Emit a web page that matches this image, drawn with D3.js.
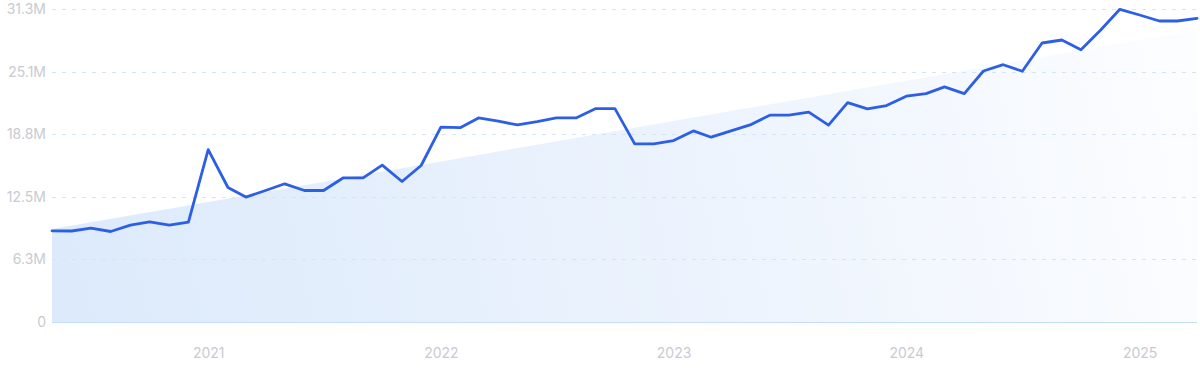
<!DOCTYPE html>
<html>
<head>
<meta charset="utf-8">
<script src="https://cdn.jsdelivr.net/npm/d3@7"></script>
<style>
html,body{margin:0;padding:0;background:#fff;}
svg{display:block;}
text{font-family:Inter,"Noto Sans",sans-serif;}
</style>
</head>
<body>
<svg id="chart" width="1200" height="371"></svg>
<script>
// Monthly data, May 2020 – Apr 2025 (values in millions)
const startMonth = "2020-05";
const values = [
  9.12, 9.10, 9.39, 9.05, 9.69, 10.02, 9.69, 9.99, 17.24, 13.45,
  12.49, 13.15, 13.82, 13.15, 13.15, 14.42, 14.42, 15.69, 14.05, 15.65,
  19.48, 19.44, 20.41, 20.08, 19.71, 20.04, 20.41, 20.41, 21.34, 21.34,
  17.81, 17.81, 18.14, 19.11, 18.48, 19.11, 19.71, 20.68, 20.68, 20.98,
  19.68, 21.94, 21.31, 21.64, 22.58, 22.84, 23.51, 22.84, 25.10, 25.73,
  25.07, 27.90, 28.20, 27.23, 29.20, 31.27, 30.70, 30.10, 30.10, 30.37
];
const trendValues = [9.29, 29.2];
const yTicks = [0, 6.26, 12.52, 18.78, 25.04, 31.3];
const yTickLabels = ["0", "6.3M", "12.5M", "18.8M", "25.1M", "31.3M"];
const xTickYears = [2021, 2022, 2023, 2024, 2025];

const parse = d3.timeParse("%Y-%m");
const start = parse(startMonth);
const data = values.map((v, i) => ({date: d3.timeMonth.offset(start, i), value: v}));

const svg = d3.select("#chart");
const mLeft = 52, mRight = 1197, mTop = 9, mBottom = 322;

const x = d3.scaleTime()
  .domain([data[0].date, data[data.length - 1].date])
  .range([mLeft, mRight]);
const y = d3.scaleLinear().domain([0, 31.3]).range([mBottom, mTop]);

// gradient for trend area
const defs = svg.append("defs");
const grad = defs.append("linearGradient")
  .attr("id", "areaGrad")
  .attr("gradientUnits", "userSpaceOnUse")
  .attr("x1", mLeft).attr("y1", mBottom)
  .attr("x2", mRight).attr("y2", mTop + 60);
grad.append("stop").attr("offset", "0%").attr("stop-color", "#dceafb");
grad.append("stop").attr("offset", "55%").attr("stop-color", "#ecf3fd");
grad.append("stop").attr("offset", "100%").attr("stop-color", "#fcfdff");

// trend area
const trend = [
  {date: data[0].date, value: trendValues[0]},
  {date: data[data.length - 1].date, value: trendValues[1]}
];
svg.append("path")
  .datum(trend)
  .attr("fill", "url(#areaGrad)")
  .attr("d", d3.area().x(d => x(d.date)).y0(y(0)).y1(d => y(d.value)));

// gridlines
svg.append("g")
  .selectAll("line")
  .data(yTicks.slice(1))
  .join("line")
  .attr("x1", mLeft).attr("x2", mRight)
  .attr("y1", d => Math.round(y(d)) + 0.5).attr("y2", d => Math.round(y(d)) + 0.5)
  .attr("stroke", "#d3e3f8")
  .attr("stroke-width", 1)
  .attr("stroke-dasharray", "4,6");

// baseline
svg.append("line")
  .attr("x1", mLeft).attr("x2", mRight)
  .attr("y1", Math.round(y(0)) + 0.5).attr("y2", Math.round(y(0)) + 0.5)
  .attr("stroke", "#c4defa").attr("stroke-width", 1);

// y axis labels
const yAxis = d3.axisLeft(y)
  .tickValues(yTicks)
  .tickFormat((d, i) => yTickLabels[i])
  .tickSize(0)
  .tickPadding(6);
const gy = svg.append("g").attr("transform", `translate(${mLeft},0)`).call(yAxis);
gy.select(".domain").remove();
gy.selectAll("text")
  .attr("fill", "#c9cad3")
  .attr("font-size", 14)
  .style("font-family", "Inter, 'Noto Sans', sans-serif");

// x axis labels
const xAxis = d3.axisBottom(x)
  .tickValues(xTickYears.map(yr => new Date(yr, 0, 1)))
  .tickFormat(d3.timeFormat("%Y"))
  .tickSize(0)
  .tickPadding(26);
const gx = svg.append("g").attr("transform", `translate(0,${mBottom})`).call(xAxis);
gx.select(".domain").remove();
gx.selectAll("text")
  .attr("fill", "#c9cad3")
  .attr("font-size", 14)
  .style("font-family", "Inter, 'Noto Sans', sans-serif");

// line
svg.append("path")
  .datum(data)
  .attr("fill", "none")
  .attr("stroke", "#2d5fe5")
  .attr("stroke-width", 2.8)
  .attr("stroke-linejoin", "round")
  .attr("stroke-linecap", "round")
  .attr("d", d3.line().x(d => x(d.date)).y(d => y(d.value)));
</script>
</body>
</html>
